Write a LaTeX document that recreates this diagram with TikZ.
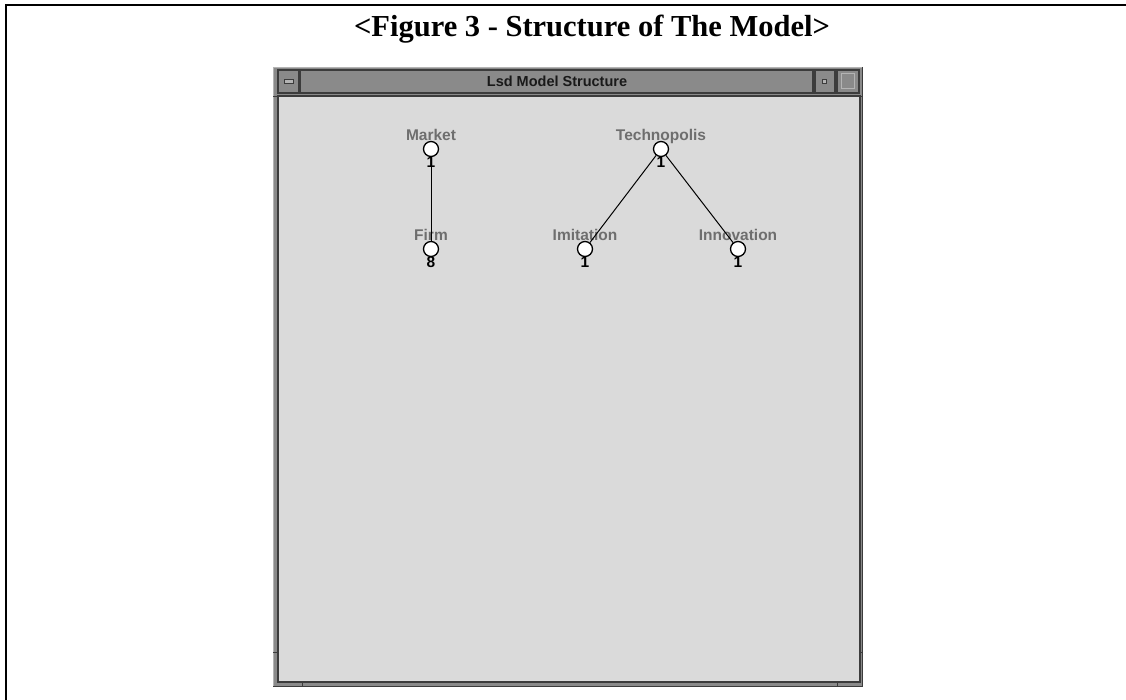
\documentclass[tikz,border=0pt]{standalone}
\usepackage{fontspec}
\setmainfont{Liberation Serif}
\newfontfamily\winfont{Liberation Sans}
\definecolor{wingray}{HTML}{8A8A8A}
\definecolor{windark}{HTML}{3C3C3C}
\definecolor{winlight}{HTML}{B4B4B4}
\definecolor{canvas}{HTML}{DADADA}
\definecolor{labgray}{HTML}{6E6E6E}
\tikzset{
  obj/.style={circle,draw=black,fill=white,line width=1.3pt,minimum size=15pt,inner sep=0pt},
  objname/.style={font=\winfont\bfseries\fontsize{15.5}{16}\selectfont,text=labgray,inner sep=0.5pt,text depth=0pt},
  objnum/.style={font=\winfont\bfseries\fontsize{15.5}{16}\selectfont,text=black,inner sep=0pt,label distance=-1pt},
  link/.style={draw=black,line width=1pt},
  winbtn/.style={fill=wingray,draw=windark,line width=1.5pt}
}
\begin{document}
\begin{tikzpicture}[x=1pt,y=-1pt]
  \useasboundingbox (0,0) rectangle (1126,700);

  % page frame and caption
  \draw[line width=2pt] (6,700) -- (6,5) -- (1126,5);
  \node[font=\bfseries\fontsize{30.5}{32}\selectfont] (caption) at (592,29) {<Figure 3 - Structure of The Model>};

  % window
  \fill[fill=wingray] (273,67) rectangle (863,687);
  \draw[draw=winlight,line width=1pt] (273.5,687) -- (273.5,67.5) -- (863,67.5);
  \draw[draw=windark,line width=1pt] (862.5,67) -- (862.5,686.5) -- (273,686.5);
  \fill[fill=canvas] (278,96) rectangle (860,682);
  \draw[draw=windark,line width=1.5pt] (278,96) rectangle (860,682);
  \foreach \y in {97,652}
  {
    \draw[draw=windark,line width=1pt] (273,\y) -- (278,\y);
    \draw[draw=windark,line width=1pt] (860,\y) -- (863,\y);
  }
  \foreach \x in {302,837}
    \draw[draw=windark,line width=1pt] (\x,682) -- (\x,687);

  % title bar and buttons
  \filldraw[winbtn] (300,70) rectangle (813,93);
  \filldraw[winbtn] (278,70) rectangle (299,93);
  \filldraw[winbtn] (815,70) rectangle (835,93);
  \filldraw[winbtn] (837,70) rectangle (859,93);
  \filldraw[fill=winlight,draw=windark,line width=0.6pt] (284,79.5) rectangle (293,83);
  \filldraw[fill=winlight,draw=windark,line width=0.6pt] (822,79) rectangle (826,83);
  \filldraw[fill=wingray,draw=winlight,line width=1pt] (841,74) rectangle (854,89);
  \node[font=\winfont\bfseries\fontsize{14.5}{15}\selectfont,text=black!90] (wintitle) at (557,81.5) {Lsd Model Structure};

  % objects
  \node [obj,label={[name=market name,objname]above:Market},label={[name=market num,objnum]below:1}] (market) at (431,149) {};
  \node [obj,label={[name=firm name,objname]above:Firm},label={[name=firm num,objnum]below:8}] (firm) at (431,249) {};
  \node [obj,label={[name=techno name,objname]above:Technopolis},label={[name=techno num,objnum]below:1}] (techno) at (661,149) {};
  \node [obj,label={[name=imit name,objname]above:Imitation},label={[name=imit num,objnum]below:1}] (imit) at (585,249) {};
  \node [obj,label={[name=innov name,objname]above:Innovation},label={[name=innov num,objnum]below:1}] (innov) at (738,249) {};

  \draw[link] (market) -- (firm);
  \foreach \c in {imit,innov}
    \draw[link] (techno) -- (\c);

\end{tikzpicture}
\end{document}
